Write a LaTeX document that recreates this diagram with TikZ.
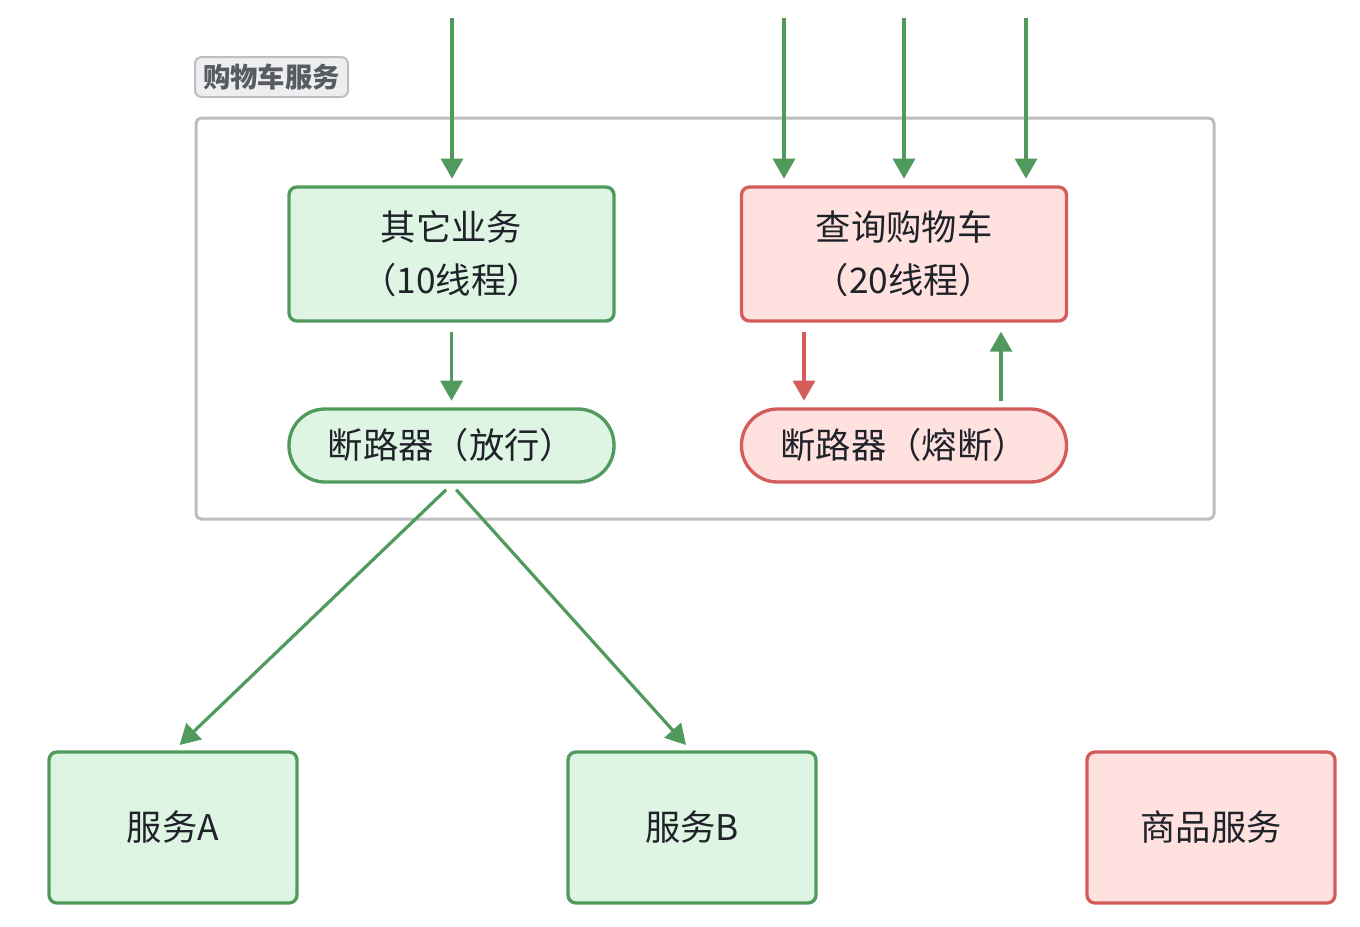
\documentclass[tikz,border=0pt]{standalone}
\usepackage{fontspec}
\setmainfont{Noto Sans CJK SC}
\usetikzlibrary{arrows.meta}
\definecolor{okline}{HTML}{519A5E}
\definecolor{okfill}{HTML}{DFF5E4}
\definecolor{badline}{HTML}{D45C5A}
\definecolor{badfill}{HTML}{FFE2E0}
\definecolor{grpline}{HTML}{BDBDC2}
\definecolor{grpfill}{HTML}{EEEEF0}
\definecolor{grptxt}{HTML}{575B62}
\definecolor{txt}{HTML}{1F2329}
\tikzset{
  box/.style={draw,line width=2.5pt,rounded corners=6pt,minimum width=243.75pt,minimum height=100.5pt,
    align=center,font=\fontsize{26.5}{40}\selectfont,text=txt},
  ok/.style={draw=okline,fill=okfill},
  bad/.style={draw=badline,fill=badfill},
  pill/.style={box,minimum height=54.75pt,rounded corners=27pt},
  svc/.style={box,minimum width=186pt,minimum height=113.25pt},
  okarr/.style={okline,line width=2.4pt,-{Triangle[length=15pt,width=16.5pt]}},
  badarr/.style={okarr,badline},
}
\begin{document}
\begin{tikzpicture}[x=0.75pt,y=-0.75pt]
\useasboundingbox (0,0) rectangle (1360,926);
\node[draw=grpline,line width=2.25pt,rounded corners=4pt,minimum width=763.5pt,minimum height=300.75pt] (cart) at (705,318.5) {};
\node[draw=grpline,fill=grpfill,line width=1.5pt,rounded corners=5pt,minimum width=114.75pt,minimum height=30pt,inner sep=0pt,
  text=grptxt,font=\fontsize{20.5}{24}\selectfont\bfseries] (cartlbl) at (271.5,77) {购物车服务};
\node[box,ok] (other) at (451.5,254) {其它业务\\（10线程）};
\node[box,bad] (query) at (904,254) {查询购物车\\（20线程）};
\node[pill,ok] (brkpass) at (451.5,445.5) {断路器（放行）};
\node[pill,bad] (brkopen) at (904,445.5) {断路器（熔断）};
\node[svc,ok] (svcA) at (173,827.5) {服务A};
\node[svc,ok] (svcB) at (692,827.5) {服务B};
\node[svc,bad] (goods) at (1211,827.5) {商品服务};
\coordinate (in1) at (452,18);
\coordinate (in2) at (784,18);
\coordinate (in3) at (904,18);
\coordinate (in4) at (1026,18);
\draw[okarr,shorten >=5pt] (in1) -- (in1 |- other.north);
\foreach \c in {in2,in3,in4}
  \draw[okarr,shorten >=5pt] (\c) -- (\c |- query.north);
\draw[okarr,shorten <=6.75pt,shorten >=5pt] (other.south) -- (brkpass.north);
\draw[badarr,shorten <=6.75pt,shorten >=5pt] ([xshift=-75pt]query.south) -- ([xshift=-75pt]brkopen.north);
\draw[okarr,shorten <=5pt,shorten >=6.75pt] ([xshift=72.75pt]brkopen.north) -- ([xshift=72.75pt]query.south);
\draw[okarr] ([xshift=-4pt,yshift=-4.5pt]brkpass.south) -- ([xshift=5pt,yshift=4pt]svcA.north);
\draw[okarr] ([xshift=3.5pt,yshift=-4.5pt]brkpass.south) -- ([xshift=-4.5pt,yshift=4pt]svcB.north);
\end{tikzpicture}
\end{document}
